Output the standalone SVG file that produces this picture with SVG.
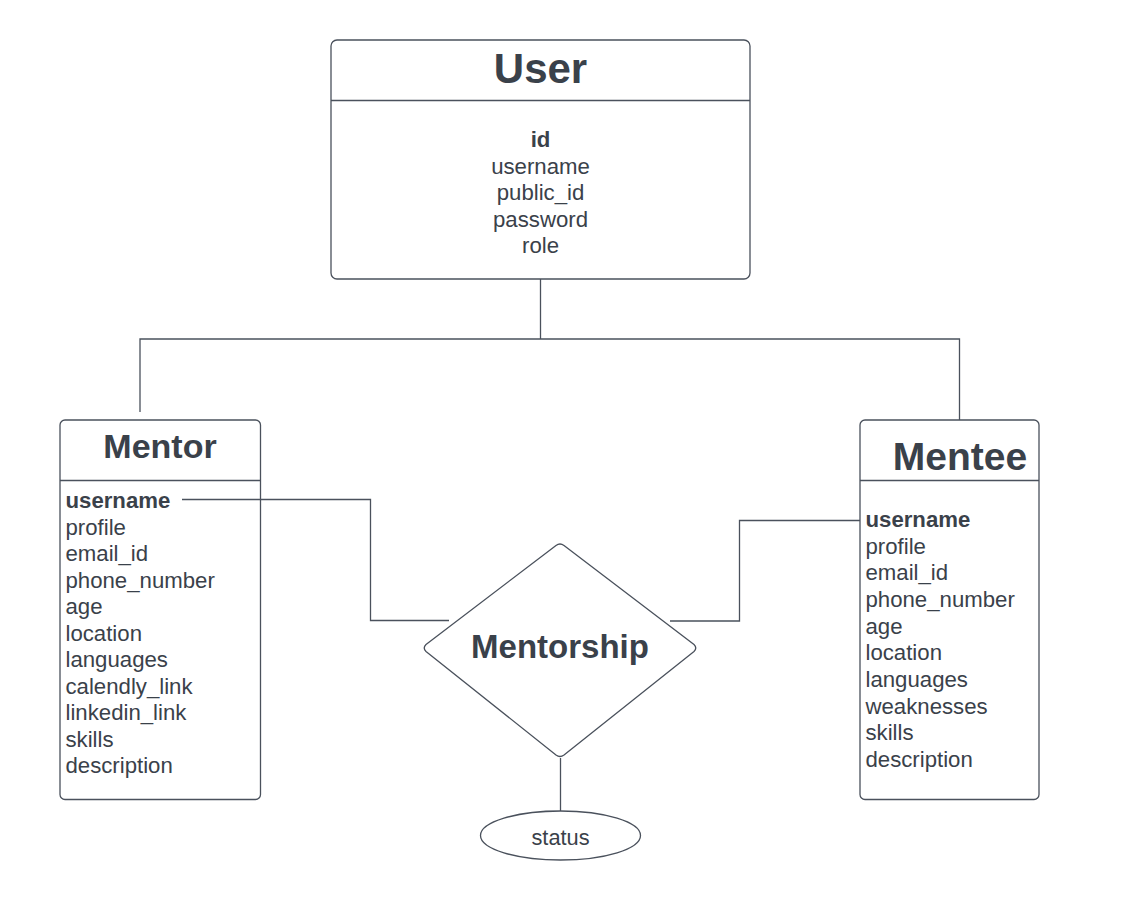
<svg xmlns="http://www.w3.org/2000/svg" width="1141" height="911" viewBox="0 0 1141 911">
<style>
.box{fill:#ffffff;stroke:#4a515c;stroke-width:1.3}
.ln{fill:none;stroke:#4a515c;stroke-width:1.3}
.t{font-family:"Liberation Sans",Arial,sans-serif;fill:#3a414a}
.title{font-weight:bold}
.attr{font-size:22.2px}
.b{font-weight:bold}
</style>
<rect width="1141" height="911" fill="#ffffff"/>
<g id="user">
<rect class="box" x="331" y="40" width="419" height="239" rx="6"/>
<line class="ln" x1="331" y1="100.5" x2="750" y2="100.5"/>
<text class="t title" x="540.5" y="83" font-size="42" text-anchor="middle">User</text>
<g class="t attr" text-anchor="middle">
<text class="b" x="540.5" y="147">id</text>
<text x="540.5" y="173.5">username</text>
<text x="540.5" y="200">public_id</text>
<text x="540.5" y="226.5">password</text>
<text x="540.5" y="253">role</text>
</g>
</g>
<g id="mentor">
<rect class="box" x="60" y="420" width="200.5" height="379.5" rx="5"/>
<line class="ln" x1="60" y1="480.5" x2="260.5" y2="480.5"/>
<text class="t title" x="160" y="458" font-size="34" text-anchor="middle">Mentor</text>
<g class="t attr">
<text class="b" x="65.5" y="508">username</text>
<text x="65.5" y="534.5">profile</text>
<text x="65.5" y="561">email_id</text>
<text x="65.5" y="587.5">phone_number</text>
<text x="65.5" y="614">age</text>
<text x="65.5" y="640.5">location</text>
<text x="65.5" y="667">languages</text>
<text x="65.5" y="693.5">calendly_link</text>
<text x="65.5" y="720">linkedin_link</text>
<text x="65.5" y="746.5">skills</text>
<text x="65.5" y="773">description</text>
</g>
</g>
<g id="mentee">
<rect class="box" x="860" y="420" width="179" height="379.5" rx="5"/>
<line class="ln" x1="860" y1="480.5" x2="1039" y2="480.5"/>
<text class="t title" x="960" y="470" font-size="39" text-anchor="middle">Mentee</text>
<g class="t attr">
<text class="b" x="865.5" y="527">username</text>
<text x="865.5" y="553.5">profile</text>
<text x="865.5" y="580">email_id</text>
<text x="865.5" y="607">phone_number</text>
<text x="865.5" y="633.5">age</text>
<text x="865.5" y="660">location</text>
<text x="865.5" y="687">languages</text>
<text x="865.5" y="713.5">weaknesses</text>
<text x="865.5" y="740">skills</text>
<text x="865.5" y="767">description</text>
</g>
</g>
<g id="mentorship">
<path class="box" stroke-linejoin="round" d="M556,545.5 Q560,542.5 564,545.5 L694,644.5 Q697.5,648 694,651.5 L564,755 Q560,758 556,755 L426,651.5 Q422.5,648 426,644.5 Z"/>
<text class="t title" x="560" y="658" font-size="33" text-anchor="middle">Mentorship</text>
</g>
<g id="status">
<ellipse class="box" cx="560.5" cy="835.5" rx="80" ry="24.5"/>
<text class="t" x="560.5" y="845" font-size="21.8" text-anchor="middle">status</text>
</g>
<g id="connectors">
<polyline class="ln" points="540.5,279 540.5,339"/>
<polyline class="ln" points="140,412 140,339 959.5,339 959.5,420"/>
<polyline class="ln" points="182,499.5 370.5,499.5 370.5,620.5 449,620.5"/>
<polyline class="ln" points="670,621 739.5,621 739.5,520.5 860,520.5"/>
<polyline class="ln" points="560.5,758 560.5,811"/>
</g>
</svg>
